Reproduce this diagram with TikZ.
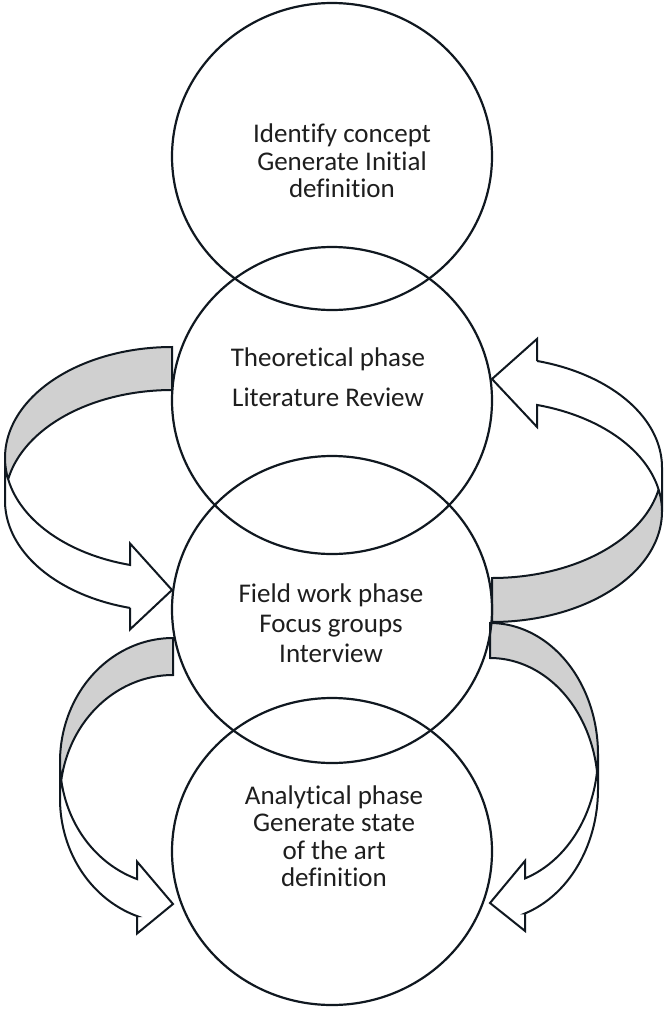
\documentclass[tikz,border=0pt]{standalone}
\usepackage{fontspec}
\setmainfont{Carlito}[RawFeature={-liga;-clig;-calt;-dlig}]
\usetikzlibrary{shapes.geometric}
\definecolor{ln}{HTML}{101820}
\definecolor{bk}{HTML}{D0D0D0}
\definecolor{tx}{HTML}{1E1E1E}
\newcommand{\nl}{\kern0pt}
% PowerPoint-like curved right arrow, local frame: origin top-left, y downward
% #1 width, #2 height, #3 shaft thickness, #4 head width, #5 head length
\newcommand{\cvArrow}[5]{%
  \pgfmathsetmacro{\cvW}{#1}%
  \pgfmathsetmacro{\cvH}{#2}%
  \pgfmathsetmacro{\cvT}{#3}%
  \pgfmathsetmacro{\cvA}{#4}%
  \pgfmathsetmacro{\cvK}{#5}%
  \pgfmathsetmacro{\cvR}{\cvH/2-(\cvT+\cvA)/4}%
  \pgfmathsetmacro{\cvAl}{acos(\cvK/\cvW)}%
  \pgfmathsetmacro{\cvBe}{asin(\cvT/(2*\cvR))}%
  \pgfmathsetmacro{\cvPa}{180-\cvAl}%
  \pgfmathsetmacro{\cvPb}{180-\cvBe}%
  \pgfmathsetmacro{\cvPc}{180+\cvBe}%
  \pgfmathsetmacro{\cvX}{\cvW-\cvK}%
  \pgfmathsetmacro{\cvYv}{\cvR+\cvR*sin(\cvAl)}%
  \pgfmathsetmacro{\cvYs}{\cvYv+\cvT}%
  \pgfmathsetmacro{\cvD}{(\cvA-\cvT)/2}%
  \pgfmathsetmacro{\cvYf}{\cvYv-\cvD}%
  \pgfmathsetmacro{\cvYe}{\cvYs+\cvD}%
  \pgfmathsetmacro{\cvYt}{\cvH-\cvA/2}%
  \pgfmathsetmacro{\cvRT}{\cvR+\cvT}%
  % front face
  \path[fill=white] plot[domain=180:\cvPa,samples=50,variable=\t] ({\cvW+\cvW*cos(\t)},{\cvR+\cvR*sin(\t)})
     -- (\cvX,\cvYf) -- (\cvW,\cvYt) -- (\cvX,\cvYe) -- (\cvX,\cvYs)
     -- plot[domain=\cvPa:180,samples=50,variable=\t] ({\cvW+\cvW*cos(\t)},{\cvRT+\cvR*sin(\t)}) -- cycle;
  % back face
  \path[fill=bk] plot[domain=\cvPb:270,samples=50,variable=\t] ({\cvW+\cvW*cos(\t)},{\cvR+\cvR*sin(\t)})
     -- (\cvW,\cvT)
     -- plot[domain=270:\cvPc,samples=50,variable=\t] ({\cvW+\cvW*cos(\t)},{\cvRT+\cvR*sin(\t)}) -- cycle;
  % outline
  \draw[arrowline] plot[domain=180:\cvPa,samples=50,variable=\t] ({\cvW+\cvW*cos(\t)},{\cvR+\cvR*sin(\t)})
     -- (\cvX,\cvYf) -- (\cvW,\cvYt) -- (\cvX,\cvYe) -- (\cvX,\cvYs)
     -- plot[domain=\cvPa:180,samples=50,variable=\t] ({\cvW+\cvW*cos(\t)},{\cvRT+\cvR*sin(\t)})
     -- (0,\cvR)
     -- plot[domain=180:270,samples=50,variable=\t] ({\cvW+\cvW*cos(\t)},{\cvR+\cvR*sin(\t)})
     -- (\cvW,\cvT)
     -- plot[domain=270:\cvPc,samples=50,variable=\t] ({\cvW+\cvW*cos(\t)},{\cvRT+\cvR*sin(\t)});
}
\begin{document}
\begin{tikzpicture}[x=1pt,y=-1pt,
  circ/.style={draw=ln, line width=2.2pt, ellipse, minimum width=320pt, minimum height=307pt, inner sep=0pt},
  lbl/.style={align=center, text=tx, inner sep=0pt},
  arrowline/.style={draw=ln, line width=2pt, line join=miter}]
\fill[white] (0,0) rectangle (666,1012);
\useasboundingbox (0,0) rectangle (666,1012);
% curved arrows
\begin{scope}[shift={(5,347)}]
  \cvArrow{167}{286}{43}{86}{42}
\end{scope}
\begin{scope}[shift={(662,622)}, rotate=180]
  \cvArrow{170}{287}{44}{88}{45}
\end{scope}
\begin{scope}[shift={(60,638)}]
  \cvArrow{113}{302}{37}{72}{36}
\end{scope}
\begin{scope}[shift={(598,623)}, xscale=-1]
  \cvArrow{108}{315}{35}{70}{35}
\end{scope}
% circles
\node[circ] (c1) at (332,156.5) {};
\node[circ] (c2) at (332,400.5) {};
\node[circ] (c3) at (332,609.5) {};
\node[circ] (c4) at (332,851.5) {};
% texts
\node[lbl, font=\fontsize{27}{27.5}\selectfont] (t1) at (342,161) {Ident\nl if\nl y concept\\Generate Init\nl ial\\def\nl init\nl ion};
\node[lbl, font=\fontsize{27}{40}\selectfont] (t2) at (328,377) {Theoret\nl ical phase\\Literature Review};
\node[lbl, font=\fontsize{27}{30}\selectfont] (t3) at (331,623) {Field work phase\\Focus groups\\Interview};
\node[lbl, font=\fontsize{27}{27.5}\selectfont] (t4) at (334,836) {Analyt\nl ical phase\\Generate state\\of the art\\def\nl init\nl ion};
\end{tikzpicture}
\end{document}
